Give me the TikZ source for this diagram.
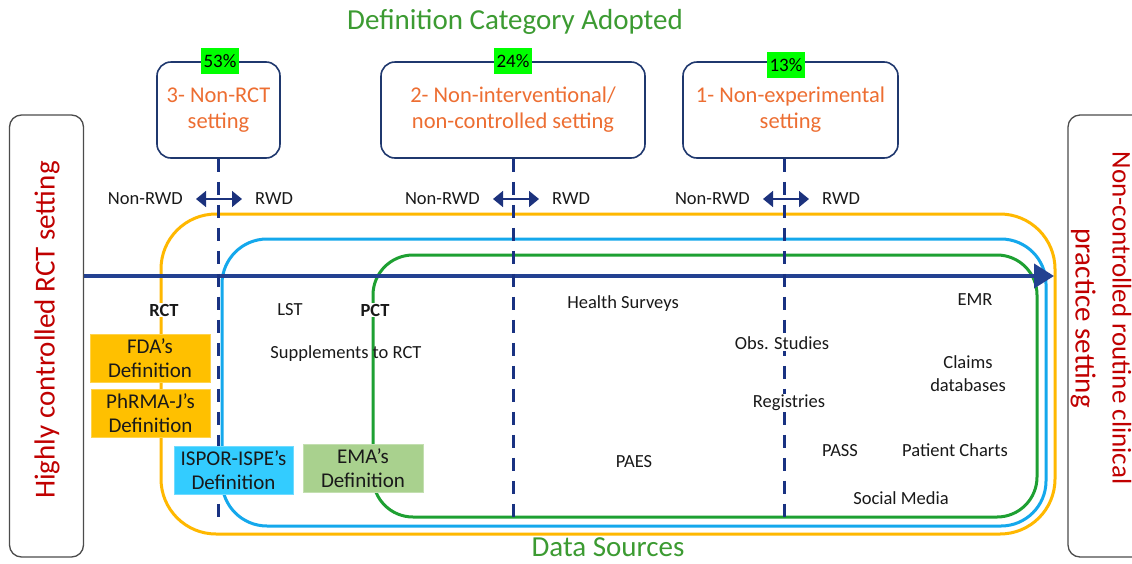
\documentclass[tikz,border=0pt]{standalone}
\usepackage{fontspec}
\setmainfont{Carlito}
\usetikzlibrary{arrows.meta}
\definecolor{navy}{RGB}{31,56,110}
\definecolor{dashblue}{RGB}{25,50,130}
\definecolor{arrowblue}{RGB}{35,65,145}
\definecolor{orangetxt}{RGB}{237,110,50}
\definecolor{pctgreen}{RGB}{0,255,0}
\definecolor{titlegreen}{RGB}{60,155,50}
\definecolor{sidered}{RGB}{192,0,0}
\definecolor{ringorange}{RGB}{255,184,0}
\definecolor{ringblue}{RGB}{20,168,236}
\definecolor{ringgreen}{RGB}{30,160,50}
\definecolor{fdafill}{RGB}{255,192,0}
\definecolor{ispofill}{RGB}{51,204,255}
\definecolor{emafill}{RGB}{169,209,142}
\tikzset{
  setbox/.style={draw=navy, line width=1.6pt, rounded corners=14pt, fill=white, text=orangetxt,
    font=\fontsize{22.5}{26}\selectfont, align=center, inner sep=0pt},
  pct/.style={fill=pctgreen, font=\fontsize{19}{19}\selectfont, inner xsep=2.5pt, inner ysep=0pt, minimum height=26pt},
  lbl/.style={font=\fontsize{18.5}{23}\selectfont, align=center, text=black!90, inner sep=1pt},
  boldlbl/.style={lbl, fill=white, font=\bfseries\fontsize{18.5}{20}\selectfont},
  deflbl/.style={font=\fontsize{21}{24}\selectfont, align=center, minimum width=120pt, minimum height=48pt, inner sep=0pt, text=black!90},
  dashline/.style={draw=dashblue, line width=3pt, dash pattern=on 13pt off 10pt},
  shadowline/.style={draw=black!18, line width=3pt, dash pattern=on 13pt off 10pt},
  dblarrow/.style={draw=navy!90!blue, line width=1.5pt, shorten <=12pt, shorten >=12pt,
    {Triangle[length=10pt,width=16pt]}-{Triangle[length=10pt,width=16pt]}},
  ring/.style={line width=3pt},
  sidebox/.style={draw=black!70, line width=1.3pt, rounded corners=12pt},
}
\begin{document}
\begin{tikzpicture}[x=1pt,y=-1pt]
\clip (0,0) rectangle (1132,563);
\fill[white] (0,0) rectangle (1132,563);

% side boxes
\node[sidebox, minimum width=74pt, minimum height=442pt] (leftbox) at (46.5,336) {};
\node[rotate=90, text=sidered, font=\fontsize{29}{30}\selectfont] (lefttxt) at (47,330) {Highly controlled RCT setting};
\node[sidebox, minimum width=90pt, minimum height=442pt] (rightbox) at (1113,336) {};
\node[rotate=-90, text=sidered, font=\fontsize{27}{37}\selectfont, align=center] (righttxt) at (1101,318)
  {Non-controlled routine clinical\\{\fontsize{29}{37}\selectfont practice setting}};

% rings (data source envelopes)
\draw[ring, draw=ringorange, rounded corners=55pt] (161,214) rectangle (1055,534);
\draw[ring, draw=ringblue, rounded corners=45pt] (222,239) rectangle (1046,526);
\draw[ring, draw=ringgreen, rounded corners=40pt] (373,255) rectangle (1037,517);

% main arrow
\coordinate (aend) at (1054,276);
\draw[draw=arrowblue, line width=4pt, -{Triangle[length=20pt,width=24pt]}] (leftbox.east |- aend) -- (aend);

% category boxes
\node[setbox, minimum width=123pt, minimum height=96pt] (box1) at (218.5,110) {3- Non-RCT\\setting};
\node[setbox, minimum width=264pt, minimum height=96pt] (box2) at (513,110) {2- Non-interventional/\\non-controlled setting};
\node[setbox, minimum width=215pt, minimum height=96pt] (box3) at (790.5,110) {1- Non-experimental\\setting};

\node[pct] (p1) at (220,61) {53\%};
\node[pct] (p2) at (513,61) {24\%};
\node[pct] (p3) at (786,65) {13\%};

% dashed dividers
\coordinate (d1) at (218.5,522);
\coordinate (d2) at (513,518);
\coordinate (d3) at (784,517);
\begin{scope}[shift={(3,3)}]
\draw[shadowline] (box1.south) -- (d1);
\draw[shadowline] (box2.south) -- (d2);
\draw[shadowline] (box3.south -| d3) -- (d3);
\end{scope}
\draw[dashline] (box1.south) -- (d1);
\draw[dashline] (box2.south) -- (d2);
\draw[dashline] (box3.south -| d3) -- (d3);

% RWD arrows
\node[lbl, anchor=east] (nr1) at (184,199) {Non-RWD};
\node[lbl, anchor=west] (r1) at (254,199) {RWD};
\node[lbl, anchor=east] (nr2) at (481,199) {Non-RWD};
\node[lbl, anchor=west] (r2) at (551,199) {RWD};
\node[lbl, anchor=east] (nr3) at (751,199) {Non-RWD};
\node[lbl, anchor=west] (r3) at (821,199) {RWD};
\draw[dblarrow] (nr1.east) -- (r1.west);
\draw[dblarrow] (nr2.east) -- (r2.west);
\draw[dblarrow] (nr3.east) -- (r3.west);

% data source labels
\node[boldlbl] (rct) at (164,310) {RCT};
\node[lbl] (lst) at (290,310) {LST};
\node[boldlbl] (pct) at (375,310) {PCT};
\node[lbl] (supp) at (346,354) {Supplements to RCT};
\node[lbl] (hs) at (623,304) {Health Surveys};
\node[lbl, fill=white] (obs) at (782,343) {Obs. Studies};
\node[lbl, fill=white] (reg) at (789,403) {Registries};
\node[lbl] (paes) at (634,462) {PAES};
\node[lbl] (pass) at (840,451) {PASS};
\node[lbl] (emr) at (975,300) {EMR};
\node[lbl] (claims) at (968,374) {Claims\\databases};
\node[lbl] (pc) at (955,450) {Patient Charts};
\node[lbl] (sm) at (901,498) {Social Media};

% definition boxes
\node[deflbl, fill=fdafill, draw=fdafill!70!white, line width=0.8pt] (fda) at (150,358) {FDA’s\\Definition};
\node[deflbl, fill=fdafill, draw=fdafill!70!white, line width=0.8pt, minimum width=119pt] (phrma) at (150.5,413) {PhRMA-J’s\\Definition};
\node[deflbl, fill=ispofill, draw=ispofill!70!white, line width=0.8pt, minimum width=119pt] (ispor) at (233.5,470) {ISPOR-ISPE’s\\Definition};
\node[deflbl, fill=emafill, draw=emafill!70!white, line width=0.8pt] (ema) at (363,468) {EMA’s\\Definition};

% titles
\node[text=titlegreen, font=\fontsize{29}{30}\selectfont, inner sep=0pt] (title) at (515,22) {Definition Category Adopted};
\node[text=titlegreen, font=\fontsize{29}{30}\selectfont, inner sep=0pt] (ds) at (608,547) {Data Sources};
\end{tikzpicture}
\end{document}
